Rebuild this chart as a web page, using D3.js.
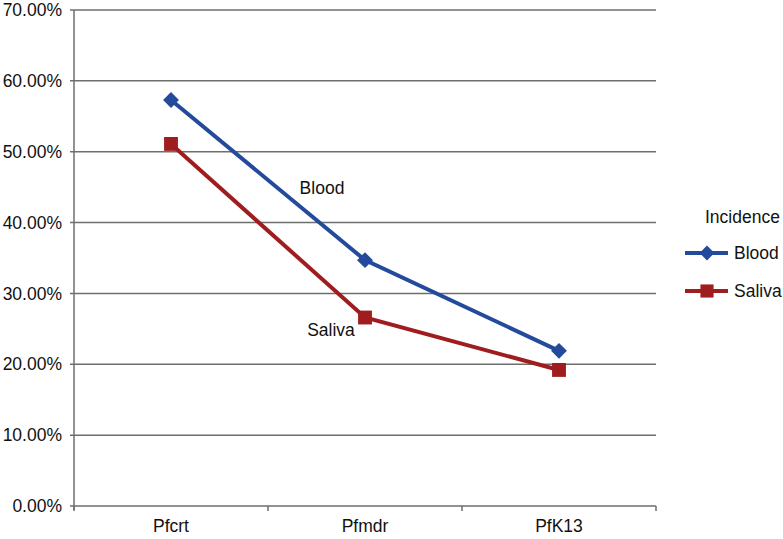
<!DOCTYPE html>
<html><head><meta charset="utf-8">
<script src="https://cdn.jsdelivr.net/npm/d3@7"></script>
<style>body{margin:0;background:#fff}svg{display:block}text{font-family:"Liberation Sans",Arial,Helvetica,sans-serif;fill:#111}</style>
</head><body>
<script>
const categories = ["Pfcrt", "Pfmdr", "PfK13"];
const bloodValues = [0.573, 0.347, 0.219];
const salivaValues = [0.511, 0.266, 0.192];
const yTicks = [0, 0.1, 0.2, 0.3, 0.4, 0.5, 0.6, 0.7];
const seriesNames = ["Blood", "Saliva"];
const seriesColors = ["#234a9b", "#a01d1f"];
const legendTitle = "Incidence";

(function () {
const W = 783, H = 539, FS = 17.5;
const svg = d3.select("body").append("svg").attr("width", W).attr("height", H);
const pL = 74, pR = 656, pT = 10, pB = 506;
const x = d3.scaleBand().domain(categories).range([pL, pR]);
const y = d3.scaleLinear().domain([0, 0.7]).range([pB, pT]);

// gridlines
svg.append("g").selectAll("line").data(yTicks).join("line")
  .attr("x1", pL - 4).attr("x2", pR).attr("y1", d => y(d)).attr("y2", d => y(d))
  .attr("stroke", "#6e6e6e").attr("stroke-width", 1.5);
// y axis line
svg.append("line").attr("x1", pL).attr("x2", pL).attr("y1", pT).attr("y2", pB + 4)
  .attr("stroke", "#6e6e6e").attr("stroke-width", 1.5);
// x tick marks
const xb = categories.map(c => x(c) + x.bandwidth()).concat([pL]);
svg.append("g").selectAll("line").data(xb).join("line")
  .attr("x1", d => d).attr("x2", d => d).attr("y1", pB).attr("y2", pB + 5)
  .attr("stroke", "#6e6e6e").attr("stroke-width", 1.5);
// y labels
svg.append("g").selectAll("text").data(yTicks).join("text")
  .attr("x", 62).attr("y", d => y(d)).attr("dy", "0.35em").attr("text-anchor", "end")
  .attr("font-size", FS).text(d => d3.format(".2%")(d));
// x labels
svg.append("g").selectAll("text").data(categories).join("text")
  .attr("x", d => x(d) + x.bandwidth() / 2).attr("y", 532).attr("text-anchor", "middle")
  .attr("font-size", FS).text(d => d);

const series = [bloodValues, salivaValues];
const line = d3.line().x((d, i) => x(categories[i]) + x.bandwidth() / 2).y(d => y(d));
series.forEach((vals, si) => {
  svg.append("path").datum(vals).attr("d", line).attr("fill", "none")
    .attr("stroke", seriesColors[si]).attr("stroke-width", 4);
  svg.append("g").selectAll("path").data(vals).join("path")
    .attr("transform", (d, i) => `translate(${x(categories[i]) + x.bandwidth() / 2},${y(d)})`)
    .attr("fill", seriesColors[si])
    .attr("d", si === 0 ? d3.symbol(d3.symbolDiamond2, 160)() : d3.symbol(d3.symbolSquare2, 245)());
});

// inline labels
svg.append("text").attr("x", 322).attr("y", 194).attr("text-anchor", "middle").attr("font-size", FS).text("Blood");
svg.append("text").attr("x", 331).attr("y", 336).attr("text-anchor", "middle").attr("font-size", FS).text("Saliva");

// legend
svg.append("text").attr("x", 705).attr("y", 223).attr("font-size", FS).text(legendTitle);
seriesNames.forEach((n, i) => {
  const ly = 253 + i * 38;
  svg.append("line").attr("x1", 685).attr("x2", 728).attr("y1", ly).attr("y2", ly)
    .attr("stroke", seriesColors[i]).attr("stroke-width", 4);
  svg.append("path").attr("transform", `translate(707,${ly})`).attr("fill", seriesColors[i])
    .attr("d", i === 0 ? d3.symbol(d3.symbolDiamond2, 140)() : d3.symbol(d3.symbolSquare2, 220)());
  svg.append("text").attr("x", 734).attr("y", ly).attr("dy", "0.35em").attr("font-size", FS).text(n);
});
})();
</script>
</body></html>
